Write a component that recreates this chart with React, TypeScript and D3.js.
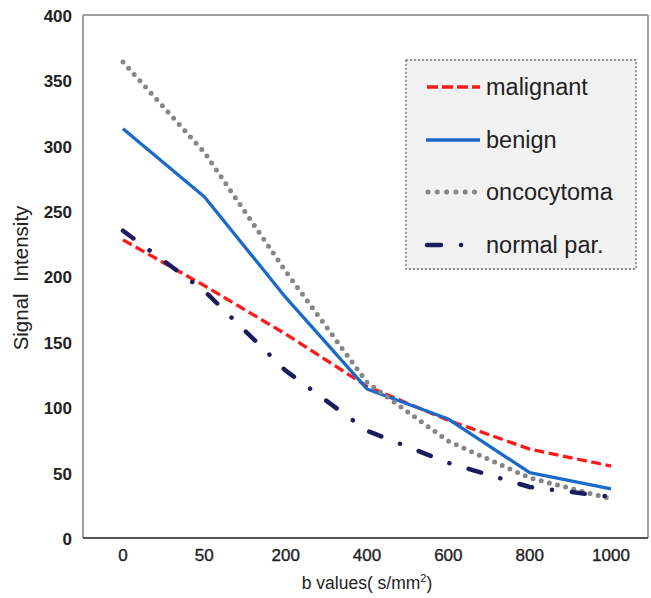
import React from "react";
import * as d3 from "d3";

const categories = ["0", "50", "200", "400", "600", "800", "1000"];
const malignant = [228, 193, 156, 116, 90, 68, 55];
const benign = [313, 261, 184, 114, 91, 50, 37.5];
const oncocytoma = [364, 295, 204, 119, 74, 46, 30];
const normalPar = [235, 189, 128, 82, 57.5, 39, 31.5];
const yTicks = [0, 50, 100, 150, 200, 250, 300, 350, 400];

const seriesNames = ["malignant", "benign", "oncocytoma", "normal par."];

export default function App() {
  const W = 651, H = 598;
  const left = 83, right = 648, top = 15, bottom = 538;
  const y = d3.scaleLinear().domain([0, 400]).range([bottom, top]);
  const x = d3.scalePoint<string>().domain(categories).range([123, 611]);

  const series = [
    { name: seriesNames[0], values: malignant, color: "#ff1a1a", width: 3.3, dash: "10,4.5", cap: "butt", legendDash: "11,4" },
    { name: seriesNames[1], values: benign, color: "#1b6ac9", width: 3.3, dash: "", cap: "butt", legendDash: "" },
    { name: seriesNames[2], values: oncocytoma, color: "#868686", width: 5, dash: "0,8.4", cap: "round", legendDash: "0,9.3" },
    { name: seriesNames[3], values: normalPar, color: "#1c1c60", width: 4.5, dash: "13,20,0.1,20", cap: "round", legendDash: "14,20,0.1,40" },
  ];

  const line = d3
    .line<number>()
    .x((_, i) => x(categories[i]) as number)
    .y((d) => y(d));

  const legendX = 406, legendY = 60, legendW = 230, legendH = 209;
  const legendRowY = [87, 140, 192, 245];
  const legendLineX = [[427, 480], [426, 480], [428, 478], [427, 462]];

  return (
    <svg
      width={W}
      height={H}
      style={{ position: "absolute", left: 0, top: 0, fontFamily: "'Liberation Sans', Arial, sans-serif" }}
    >
      <rect x={0} y={0} width={W} height={H} fill="#ffffff" />
      {/* frame */}
      <line x1={left} y1={top} x2={left} y2={bottom} stroke="#a0a0a0" strokeWidth={2} />
      <line x1={left} y1={top} x2={right} y2={top} stroke="#a0a0a0" strokeWidth={2} />
      <line x1={right} y1={top} x2={right} y2={bottom} stroke="#a0a0a0" strokeWidth={2} />
      <line x1={left} y1={bottom} x2={right} y2={bottom} stroke="#555555" strokeWidth={2} />

      {/* y tick labels */}
      {yTicks.map((t) => (
        <text key={t} x={72} y={y(t) + 1} dy="0.35em" textAnchor="end" fontSize={17} fontWeight="bold" fill="#222">
          {t}
        </text>
      ))}
      {/* x tick labels */}
      {categories.map((c) => (
        <text
          key={c}
          x={x(c)}
          y={555}
          dy="0.35em"
          textAnchor="middle"
          fontSize={17}
          fill="#222"
          stroke="#222"
          strokeWidth={0.35}
        >
          {c}
        </text>
      ))}

      {/* axis titles */}
      <text x={367} y={589} textAnchor="middle" fontSize={17.5} fill="#222">
        b values( s/mm<tspan dy={-7} fontSize={11}>2</tspan>
        <tspan dy={7}>)</tspan>
      </text>
      <text
        transform={`translate(28,${278}) rotate(-90)`}
        textAnchor="middle"
        fontSize={20.5}
        fill="#222"
        style={{ whiteSpace: "pre" }}
      >
        {"Signal  Intensity"}
      </text>

      {/* series */}
      {series.map((s) => (
        <path
          key={s.name}
          d={line(s.values) || ""}
          fill="none"
          stroke={s.color}
          strokeWidth={s.width}
          strokeDasharray={s.dash || undefined}
          strokeLinecap={s.cap as any}
          strokeLinejoin="round"
        />
      ))}

      {/* legend */}
      <rect
        x={legendX}
        y={legendY}
        width={legendW}
        height={legendH}
        fill="#f2f2f2"
        stroke="#707070"
        strokeWidth={1.3}
        strokeDasharray="2.2,1.8"
      />
      {series.map((s, i) => (
        <g key={s.name}>
          <line
            x1={legendLineX[i][0]}
            x2={legendLineX[i][1]}
            y1={legendRowY[i]}
            y2={legendRowY[i]}
            stroke={s.color}
            strokeWidth={s.width}
            strokeDasharray={s.legendDash || undefined}
            strokeLinecap={s.cap as any}
          />
          <text x={486} y={legendRowY[i]} dy="0.35em" fontSize={23.5} fill="#222">
            {s.name}
          </text>
        </g>
      ))}
    </svg>
  );
}
